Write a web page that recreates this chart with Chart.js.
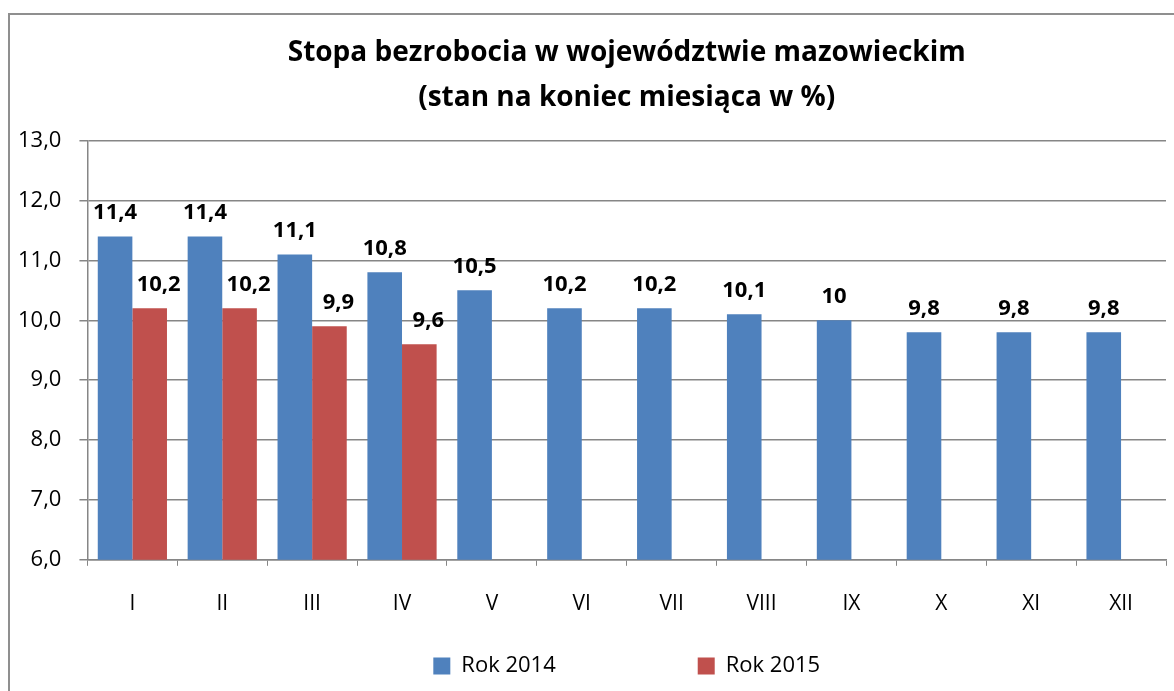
<!DOCTYPE html>
<html>
<head>
<meta charset="utf-8">
<script src="https://cdn.jsdelivr.net/npm/chart.js@4"></script>
<style>
  body { margin: 0; background: #fff; overflow: hidden; }
  .frame { position: absolute; left: 8px; top: 13px; width: 1300px; height: 800px; border: 2px solid #8f8f8f; }
  #myChart { position: absolute; left: 0; top: 0; }
</style>
</head>
<body>
<div class="frame"></div>
<canvas id="myChart" width="1174" height="691"></canvas>
<script>
const months = ['I', 'II', 'III', 'IV', 'V', 'VI', 'VII', 'VIII', 'IX', 'X', 'XI', 'XII'];
const rok2014 = [11.4, 11.4, 11.1, 10.8, 10.5, 10.2, 10.2, 10.1, 10, 9.8, 9.8, 9.8];
const rok2015 = [10.2, 10.2, 9.9, 9.6, null, null, null, null, null, null, null, null];
const yTicks = [6, 7, 8, 9, 10, 11, 12, 13];

const FONT = '"Open Sans", Lato, sans-serif';
const gridGray = '#868686';

// value labels above bars
const barLabels = {
  id: 'barLabels',
  afterDatasetsDraw(chart) {
    const ctx = chart.ctx;
    ctx.save();
    ctx.font = 'bold 22px ' + FONT;
    ctx.fillStyle = '#000';
    ctx.textAlign = 'center';
    ctx.textBaseline = 'alphabetic';
    chart.data.datasets.forEach((ds, i) => {
      const meta = chart.getDatasetMeta(i);
      meta.data.forEach((bar, j) => {
        const v = ds.data[j];
        if (v === null) return;
        const shift = i === 1 ? 9 : 0;
        ctx.fillText(String(v).replace('.', ','), bar.x + shift, bar.y - 17);
      });
    });
    ctx.restore();
  }
};

new Chart(document.getElementById('myChart'), {
  type: 'bar',
  data: {
    labels: months,
    datasets: [
      { label: 'Rok 2014', data: rok2014, backgroundColor: '#4F81BD' },
      { label: 'Rok 2015', data: rok2015, backgroundColor: '#C0504D' }
    ]
  },
  options: {
    responsive: false,
    animation: false,
    layout: { padding: { left: 0, right: 8, top: 31, bottom: 4 } },
    datasets: { bar: { categoryPercentage: 0.77, barPercentage: 1.0 } },
    plugins: {
      tooltip: { enabled: false },
      title: {
        display: true,
        fullSize: false,
        text: ['Stopa bezrobocia w województwie mazowieckim', '(stan na koniec miesiąca w %)'],
        color: '#000',
        font: { family: FONT, size: 28, weight: 'bold', lineHeight: 1.6 },
        padding: { top: 0, bottom: 20 }
      },
      legend: {
        position: 'bottom',
        fullSize: false,
        labels: {
          color: '#000',
          font: { family: FONT, size: 22 },
          boxWidth: 17,
          boxHeight: 17,
          padding: 10,
          generateLabels(chart) {
            const items = Chart.defaults.plugins.legend.labels.generateLabels(chart);
            items.forEach(it => { it.lineWidth = 0; });
            items[0].text = items[0].text + '\u2003\u2003\u2003\u2003\u2003\u2003';
            return items;
          }
        }
      }
    },
    scales: {
      x: {
        grid: { drawOnChartArea: false, color: gridGray, tickLength: 6, offset: true },
        border: { color: gridGray, width: 1.5 },
        ticks: { color: '#000', font: { family: FONT, size: 21 }, padding: 26 },
        afterFit(scale) { scale.height += 2; }
      },
      y: {
        min: 6,
        max: 13,
        afterBuildTicks(scale) { scale.ticks = yTicks.map(v => ({ value: v })); },
        grid: { color: gridGray, lineWidth: 1.5, tickLength: 8 },
        border: { color: gridGray, width: 1.5 },
        ticks: {
          color: '#000',
          font: { family: FONT, size: 22 },
          padding: 18,
          callback: v => v.toFixed(1).replace('.', ',')
        }
      }
    }
  },
  plugins: [barLabels]
});
</script>
</body>
</html>
